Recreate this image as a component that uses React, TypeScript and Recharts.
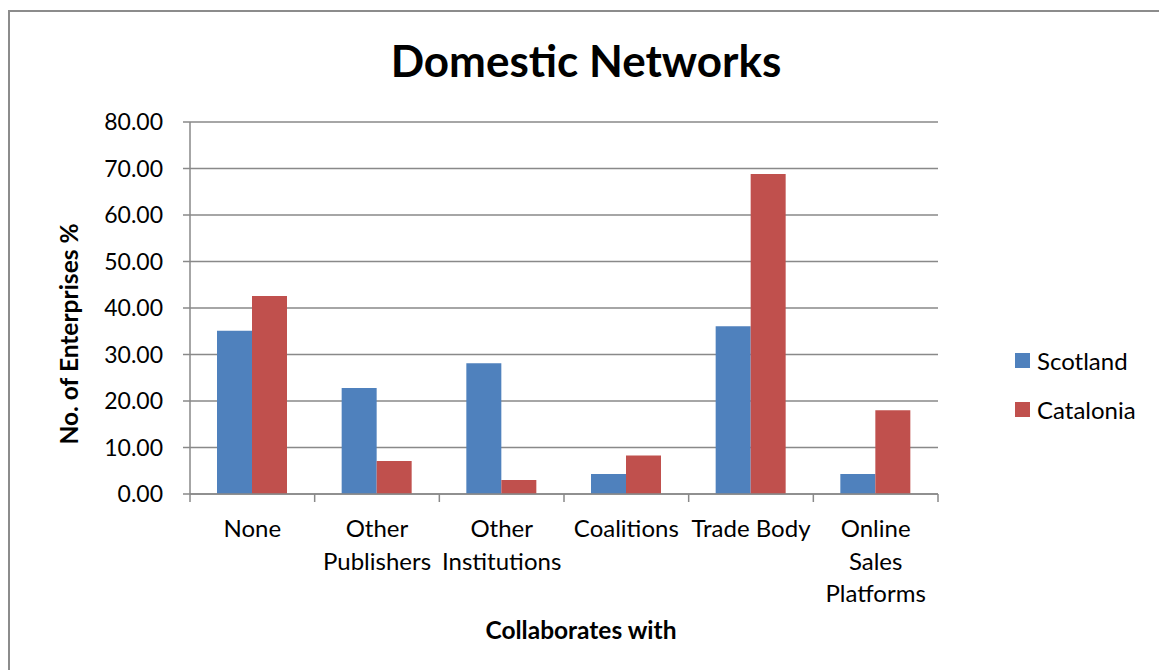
import { BarChart, Bar, XAxis, YAxis, CartesianGrid } from "recharts";

const categories = [
  "None",
  "Other Publishers",
  "Other Institutions",
  "Coalitions",
  "Trade Body",
  "Online Sales Platforms",
];
// how Excel wrapped each category label
const categoryLines = [
  ["None"],
  ["Other", "Publishers"],
  ["Other", "Institutions"],
  ["Coalitions"],
  ["Trade Body"],
  ["Online", "Sales", "Platforms"],
];
const scotland = [35.1, 22.8, 28.1, 4.3, 36.1, 4.3];
const catalonia = [42.6, 7.1, 3.0, 8.3, 68.8, 18.0];
const yTicks = [0, 10, 20, 30, 40, 50, 60, 70, 80];

const data = categories.map((name, i) => ({
  name,
  Scotland: scotland[i],
  Catalonia: catalonia[i],
}));

const FONT = "Lato, 'Open Sans', sans-serif";
const GRID = "#898989";
const BLUE = "#4F81BD";
const RED = "#C0504D";

const PLOT_LEFT = 190;
const PLOT_RIGHT = 938;
const PLOT_BOTTOM = 494;
const BAND = (PLOT_RIGHT - PLOT_LEFT) / categories.length;

const CategoryTick = (props: any) => {
  const { payload, index } = props;
  const cx = payload.coordinate;
  const lines: string[] = categoryLines[index] || [payload.value];
  return (
    <g>
      <line x1={cx - BAND / 2} x2={cx - BAND / 2} y1={PLOT_BOTTOM} y2={PLOT_BOTTOM + 8} stroke={GRID} strokeWidth={1.5} />
      {index === categories.length - 1 && (
        <line x1={cx + BAND / 2} x2={cx + BAND / 2} y1={PLOT_BOTTOM} y2={PLOT_BOTTOM + 8} stroke={GRID} strokeWidth={1.5} />
      )}
      {lines.map((ln, k) => (
        <text key={k} x={cx} y={537 + k * 32.5} textAnchor="middle" fontSize={24} fontFamily={FONT} fill="#000">
          {ln}
        </text>
      ))}
    </g>
  );
};

const legendItems = [
  { label: "Scotland", color: BLUE },
  { label: "Catalonia", color: RED },
];

export default function App() {
  return (
    <div style={{ position: "absolute", left: 0, top: 0, width: 1159, height: 670, overflow: "hidden", background: "#fff" }}>
      <div style={{ position: "absolute", left: 8, top: 10, width: 1200, height: 700, border: "2px solid #8c8c8c", boxSizing: "border-box" }} />
      <div style={{ position: "absolute", left: 0, top: 0 }}>
        <BarChart
          width={1159}
          height={670}
          data={data}
          margin={{ top: 122, right: 221, bottom: 0, left: 110 }}
          barGap={0}
        >
          <text x={586} y={77} textAnchor="middle" fontSize={44} fontWeight={700} fontFamily={FONT} fill="#000">
            Domestic Networks
          </text>
          <text x={581} y={639} textAnchor="middle" fontSize={24.5} fontWeight={700} fontFamily={FONT} fill="#000">
            Collaborates with
          </text>
          <text
            x={0}
            y={0}
            transform="translate(78 334) rotate(-90)"
            textAnchor="middle"
            fontSize={24.5}
            fontWeight={700}
            fontFamily={FONT}
            fill="#000"
          >
            No. of Enterprises %
          </text>
          <CartesianGrid vertical={false} stroke={GRID} strokeWidth={1.5} />
          <XAxis
            dataKey="name"
            height={176}
            interval={0}
            axisLine={{ stroke: GRID, strokeWidth: 1.5 }}
            tickLine={false}
            tick={<CategoryTick />}
          />
          <YAxis
            width={80}
            domain={[0, 80]}
            ticks={yTicks}
            interval={0}
            tickFormatter={(v: number) => v.toFixed(2)}
            axisLine={{ stroke: GRID, strokeWidth: 1.5 }}
            tickLine={{ stroke: GRID, strokeWidth: 1.5 }}
            tickSize={7}
            tickMargin={20}
            tick={{ fontSize: 23, fontFamily: FONT, fill: "#000" }}
          />
          <Bar dataKey="Scotland" fill={BLUE} barSize={35} isAnimationActive={false} />
          <Bar dataKey="Catalonia" fill={RED} barSize={35} isAnimationActive={false} />
        </BarChart>
      </div>
      <div style={{ position: "absolute", left: 1015, top: 336, fontFamily: FONT, fontSize: 24, color: "#000" }}>
        {legendItems.map((it) => (
          <div key={it.label} style={{ display: "flex", alignItems: "center", height: 49 }}>
            <span style={{ display: "inline-block", width: 15, height: 15, background: it.color, marginRight: 7 }} />
            <span>{it.label}</span>
          </div>
        ))}
      </div>
    </div>
  );
}
